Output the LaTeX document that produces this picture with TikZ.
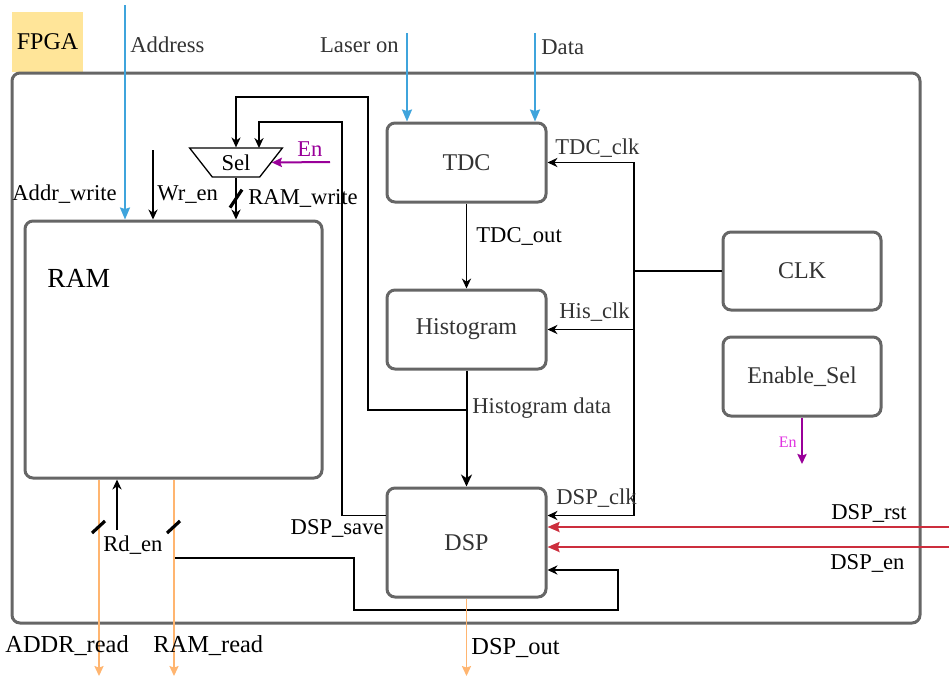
\documentclass[tikz,border=0pt]{standalone}
\usepackage{fontspec}
\setmainfont{Liberation Serif}
\usetikzlibrary{arrows.meta, positioning, shapes.geometric, calc}
\definecolor{fpgayellow}{HTML}{FFE599}
\definecolor{boxgray}{HTML}{666666}
\definecolor{txtgray}{HTML}{333333}
\definecolor{sigblue}{HTML}{3FA4DC}
\definecolor{sigorange}{HTML}{FFB570}
\definecolor{sigred}{HTML}{CC2E3D}
\definecolor{selpurple}{HTML}{990099}
\definecolor{enmagenta}{HTML}{E033E0}

\begin{document}
\begin{tikzpicture}[
  x=0.5pt, y=-0.5pt,
  every node/.style={font=\fontsize{11.3}{13}\selectfont},
  blk/.style={rectangle, rounded corners=4pt, draw=boxgray, line width=1.5pt, fill=white, text=txtgray, minimum width=79.5pt, minimum height=39.5pt, font=\fontsize{12}{14}\selectfont},
  lbl/.style={inner sep=0pt, anchor=west},
  lble/.style={inner sep=0pt, anchor=east},
  outlbl/.style={lbl, font=\fontsize{12.2}{14}\selectfont},
  wire/.style={line width=0.65pt},
  blkarr/.style={wire, -{Stealth[length=5pt, width=4.6pt, inset=1.6pt]}},
  bluearr/.style={draw=sigblue, line width=1pt, -{Stealth[length=6pt, width=5pt, inset=0.8pt]}},
  orangearr/.style={draw=sigorange, line width=0.7pt, -{Stealth[length=5pt, width=4.6pt, inset=0.8pt]}},
  redarr/.style={draw=sigred, line width=1.1pt, -{Stealth[length=6pt, width=5pt, inset=0.8pt]}},
  purplearr/.style={draw=selpurple, line width=1pt, -{Stealth[length=5pt, width=4.6pt, inset=0.8pt]}},
  busmark/.style={line width=1.6pt},
]
\useasboundingbox (0,0) rectangle (949,676);

% FPGA outline
\node[rectangle, fill=fpgayellow, minimum width=35.5pt, minimum height=30pt, inner sep=0pt, font=\fontsize{12}{14}\selectfont] (fpgatag) at (47.5,42) {FPGA};
\node[rectangle, rounded corners=4pt, draw=boxgray, line width=1.5pt, minimum width=454pt, minimum height=275pt] (fpga) at (466,348) {};

% blocks
\node[blk, minimum width=148.5pt, minimum height=128.5pt] (ram) at (173.5,349.5) {};
\node[lbl, text=black, font=\fontsize{13.8}{16}\selectfont] (ramlbl) at (47,278) {RAM};
\node[blk] (tdc) at (466.5,162.5) {TDC};
\node[blk] (hist) at (466.5,329.5) {Histogram};
\node[blk, minimum height=54.5pt] (dsp) at (466.5,542.5) {DSP};
\node[blk, minimum width=79pt, minimum height=39pt] (clk) at (802,271) {CLK};
\node[blk, minimum width=79pt] (ensel) at (802,376.5) {Enable\_Sel};
\node[trapezium, shape border rotate=180, trapezium left angle=49, trapezium right angle=49, trapezium stretches=true, draw, line width=0.65pt, minimum width=46.5pt, minimum height=14.5pt, inner sep=0pt] (sel) at (236,162.5) {Sel};

% free ends and bends
\coordinate (addrtop) at (125,5);
\coordinate (lasertop) at (407,33);
\coordinate (datatop) at (535,33);
\coordinate (wrtop) at (153,150);
\coordinate (entail) at (330,162);
\coordinate (selin2) at (259,148);
\coordinate (loopA) at (368,97);
\coordinate (loopB) at (342,122);
\coordinate (hdjoin) at (466,410);
\coordinate (dspsave) at ($(dsp.west)+(0,-27)$);
\coordinate (dspclk) at ($(dsp.east)+(0,-27)$);
\coordinate (clkbus) at (634,271);
\coordinate (rstin) at (949,527);
\coordinate (enin) at (949,547);
\coordinate (rdjoin) at (174,558);
\coordinate (loopC) at (354,610);
\coordinate (loopD) at (618,570);
\coordinate (addrout) at (99,676);
\coordinate (ramout) at (174,676);
\coordinate (rdtail) at (117,530);
\coordinate (enout) at (802,464);

% inputs from outside
\draw[bluearr] (addrtop) -- (addrtop |- ram.north);
\draw[bluearr] (lasertop) -- (lasertop |- tdc.north);
\draw[bluearr] (datatop) -- (datatop |- tdc.north);
\draw[redarr] (rstin) -- (rstin -| dsp.east);
\draw[redarr] (enin) -- (enin -| dsp.east);

% write side of the RAM
\draw[blkarr] (wrtop) -- (wrtop |- ram.north);
\draw[blkarr] (sel.south) -- (sel.south |- ram.north);
\draw[busmark] ($(sel.south)+(-6,30)$) -- ($(sel.south)+(6,12)$);
\draw[purplearr] (entail) -- (sel.east);
\draw[blkarr] (hdjoin) -| (loopA) -| (sel.north);
\draw[blkarr] (dspsave) -| (loopB) -| (selin2);

% datapath
\draw[blkarr] (tdc.south) -- (hist.north);
\draw[line width=1pt, -{Stealth[length=6pt, width=5.5pt, inset=1.8pt]}] (hist.south) -- (dsp.north);
\draw[wire] (clk.west) -- (clkbus);
\draw[blkarr] (clkbus) |- (tdc.east);
\draw[blkarr] (clkbus) |- (hist.east);
\draw[blkarr] (clkbus) |- (dspclk);
\draw[blkarr] (rdjoin) -| (loopC) -| (loopD) -- (loopD -| dsp.east);
\draw[purplearr] (ensel.south) -- (enout);

% read side of the RAM
\draw[orangearr] (addrout |- ram.south) -- (addrout);
\draw[orangearr] (ramout |- ram.south) -- (ramout);
\draw[orangearr] (dsp.south) -- (dsp.south |- addrout);
\draw[blkarr] (rdtail) -- (rdtail |- ram.south);
\draw[busmark] ($(addrout |- rdtail)+(-7,3)$) -- ++(13,-12);
\draw[busmark] ($(ramout |- rdtail)+(-7,3)$) -- ++(13,-12);

% labels
\node[lbl, text=txtgray] (addrlbl) at (130,45) {Address};
\node[lble, text=txtgray] (laserlbl) at (399,45) {Laser on};
\node[lbl, text=txtgray] (datalbl) at (541,47) {Data};
\node[lble] (addrwlbl) at (117,194) {Addr\_write};
\node[lbl] (wrenlbl) at (157,195) {Wr\_en};
\node[lbl] (ramwlbl) at (248,198) {RAM\_write};
\node[lbl, text=selpurple] (selenlbl) at (297,149) {En};
\node[lbl] (tdcoutlbl) at (476,236) {TDC\_out};
\node[lbl, text=txtgray] (tdcclklbl) at (555,148) {TDC\_clk};
\node[lbl, text=txtgray] (hisclklbl) at (559,312) {His\_clk};
\node[lbl, text=txtgray] (histdlbl) at (472,408) {Histogram data};
\node[lbl, text=txtgray] (dspclklbl) at (556,498) {DSP\_clk};
\node[lble] (savelbl) at (384,528) {DSP\_save};
\node[lbl] (rstlbl) at (831,513) {DSP\_rst};
\node[lbl] (dspenlbl) at (830,563) {DSP\_en};
\node[lbl] (rdenlbl) at (103,545) {Rd\_en};
\node[outlbl] (addrrlbl) at (5,646) {ADDR\_read};
\node[outlbl] (ramrlbl) at (153,646) {RAM\_read};
\node[outlbl] (dspoutlbl) at (471,648) {DSP\_out};
\node[lble, text=enmagenta, font=\fontsize{8}{9}\selectfont] (enlbl) at (797,442) {En};
\end{tikzpicture}
\end{document}
